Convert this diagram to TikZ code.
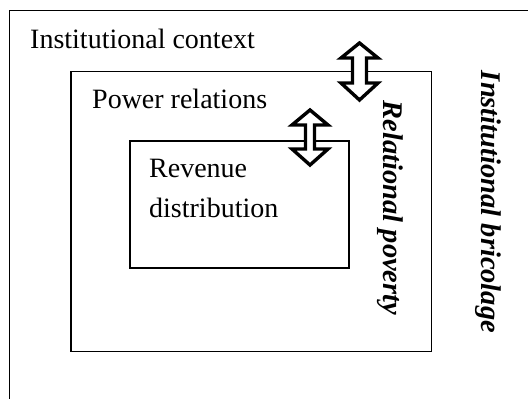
\documentclass[tikz,border=0pt]{standalone}
\usepackage{fontspec}
\setmainfont{Liberation Serif}
\begin{document}
\begin{tikzpicture}[x=1pt,y=-1pt,
  box/.style={draw=black,line width=1.2pt},
  lbl/.style={anchor=base west,inner sep=0pt,font=\fontsize{28}{32}\selectfont},
  side/.style={rotate=-90,inner sep=0pt,font=\fontsize{28.5}{32}\selectfont\bfseries\itshape},
  dblarrow/.style={draw=black,fill=white,line width=3.4pt,line join=miter}]
\useasboundingbox (0,0) rectangle (528,399);
\begin{scope}
\clip (0,0) rectangle (528,399);
\draw[box,line width=1.4pt] (9.5,10.5) rectangle (545,420);
\end{scope}
\draw[box] (71,71.5) rectangle (431.5,351.5);
\draw[box] (130,141) rectangle (349,268);
\node[lbl] (ctx) at (30,48) {Institutional context};
\node[lbl] (pow) at (92,108) {Power relations};
\node[lbl] (rev) at (149,177) {Revenue};
\node[lbl] (dist) at (149,217) {distribution};
\node[side] (rp) at (390,208) {Relational poverty};
\node[side] (ib) at (488,202) {Institutional bricolage};
% double arrow 1
\def\cx{359.5}
\draw[dblarrow] (\cx,43) -- ++(18.5,15) -- ++(-11.5,0) -- ++(0,25) -- ++(11.5,0)
  -- (\cx,100) -- ++(-18.5,-17) -- ++(11.5,0) -- ++(0,-25) -- ++(-11.5,0) -- cycle;
% double arrow 2
\def\cx{310}
\draw[dblarrow] (\cx,110) -- ++(18,15) -- ++(-13.5,0) -- ++(0,24) -- ++(13.5,0)
  -- (\cx,165) -- ++(-18,-16) -- ++(13.5,0) -- ++(0,-24) -- ++(-13.5,0) -- cycle;
\end{tikzpicture}
\end{document}
